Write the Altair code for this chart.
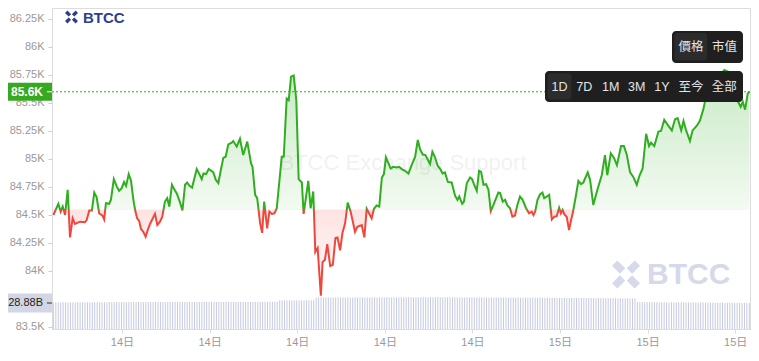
import altair as alt
import pandas as pd

# ---- price series (hours since 14日 00:00, price in USD) ----
hours = [6.65, 6.82, 6.90, 6.97, 7.05, 7.14, 7.22, 7.31, 7.39, 7.56, 7.73, 7.79, 7.88, 7.97,
         8.05, 8.13, 8.22, 8.33, 8.39, 8.45, 8.56, 8.62, 8.72, 8.82, 8.90, 8.99, 9.07, 9.14,
         9.23, 9.31, 9.39, 9.46, 9.52, 9.59, 9.65, 9.73, 9.81, 9.88, 9.96, 10.13, 10.21, 10.30,
         10.38, 10.47, 10.55, 10.62, 10.71, 10.79, 10.88, 10.99, 11.07, 11.16, 11.23, 11.31,
         11.40, 11.56, 11.65, 11.73, 11.79, 11.88, 11.97, 12.13, 12.21, 12.30, 12.38, 12.47,
         12.55, 12.64, 12.76, 12.81, 12.93, 13.04, 13.15, 13.29, 13.42, 13.47, 13.56, 13.63,
         13.73, 13.80, 13.87, 13.97, 14.05, 14.13, 14.22, 14.30, 14.47, 14.54, 14.64, 14.71,
         14.79, 14.88, 14.97, 15.05, 15.16, 15.22, 15.38, 15.46, 15.55, 15.62, 15.70, 15.81,
         15.87, 15.95, 16.03, 16.13, 16.22, 16.31, 16.38, 16.47, 16.55, 16.64, 16.73, 16.83,
         16.98, 17.06, 17.21, 17.30, 17.38, 17.46, 17.55, 17.63, 17.72, 17.81, 17.90, 17.97,
         18.04, 18.12, 18.20, 18.29, 18.41, 18.49, 18.58, 18.69, 18.81, 18.92, 19.04, 19.13,
         19.21, 19.30, 19.39, 19.47, 19.55, 19.63, 19.72, 19.81, 19.89, 19.98, 20.06, 20.16,
         20.29, 20.41, 20.49, 20.55, 20.65, 20.71, 20.81, 20.92, 20.99, 21.06, 21.15, 21.23,
         21.30, 21.38, 21.47, 21.55, 21.63, 21.72, 21.89, 21.95, 22.04, 22.12, 22.20, 22.29,
         22.37, 22.46, 22.54, 22.63, 22.72, 22.83, 22.94, 23.03, 23.09, 23.15, 23.23, 23.32,
         23.40, 23.46, 23.55, 23.63, 23.72, 23.81, 23.89, 23.97, 24.03, 24.09, 24.15, 24.23,
         24.31, 24.38, 24.44, 24.54, 24.63, 24.72, 24.80, 24.95, 25.03, 25.14, 25.28, 25.43,
         25.54, 25.62, 25.74, 25.85, 25.95, 26.09, 26.19, 26.29, 26.40, 26.51, 26.63, 26.72,
         26.83, 26.95, 27.05, 27.12, 27.23, 27.37, 27.46, 27.57, 27.69, 27.83, 27.94, 28.03,
         28.15, 28.23, 28.32, 28.45, 28.54, 28.68, 28.79, 28.91, 29.00, 29.21, 29.41, 29.63,
         29.76, 29.92, 29.99, 30.11, 30.19, 30.26, 30.34, 30.43, 30.49]

prices = [84500, 84600, 84530, 84575, 84500, 84725, 84300, 84470, 84420, 84440, 84435, 84455, 84540, 84540,
          84700, 84660, 84515, 84495, 84460, 84605, 84600, 84635, 84820, 84755, 84715, 84740, 84795, 84760,
          84865, 84805, 84635, 84530, 84470, 84445, 84375, 84350, 84305, 84365, 84420, 84510, 84410, 84440,
          84485, 84620, 84650, 84575, 84770, 84730, 84690, 84610, 84540, 84770, 84790, 84760,
          84745, 84910, 84865, 84820, 84870, 84865, 84910, 84880, 84815, 84785, 84895, 85010,
          85020, 85130, 85145, 85160, 85110, 85180, 85035, 85155, 84960, 84930, 84680, 84650,
          84425, 84340, 84620, 84380, 84530, 84510, 84515, 84560, 85020, 85020, 85540, 85525,
          85735, 85745, 85525, 84820, 84790, 84510, 84805, 84560, 84710, 84170, 84205, 83780,
          84080, 84100, 84240, 84045, 84055, 84295, 84300, 84185, 84340, 84425, 84610, 84530,
          84350, 84395, 84410, 84300, 84555, 84515, 84470, 84555, 84585, 84575, 84835, 84865,
          85015, 84965, 84915, 84930, 84925, 84930, 84910, 84895, 84870, 84945, 85020, 85170,
          85085, 85040, 85035, 84995, 84955, 85065, 85015, 84940, 84915, 84870, 84880, 84795,
          84790, 84670, 84635, 84665, 84600, 84620, 84785, 84835, 84820, 84770, 84715, 84895,
          84885, 84770, 84775, 84725, 84535, 84590, 84700, 84695, 84620, 84635, 84585, 84560,
          84485, 84495, 84590, 84665, 84635, 84565, 84515, 84530, 84500, 84530, 84635, 84685,
          84700, 84650, 84665, 84680, 84460, 84485, 84490, 84565, 84515, 84545, 84505, 84485,
          84365, 84455, 84520, 84665, 84805, 84775, 84790, 84880, 84815, 84590, 84725, 84855,
          85035, 84855, 85050, 85010, 84945, 85115, 85115, 85035, 84880, 84840, 84770, 84850,
          84915, 85225, 85115, 85145, 85115, 85245, 85250, 85350, 85305, 85255, 85355, 85365,
          85255, 85340, 85255, 85160, 85255, 85295, 85340, 85445, 85555, 85660, 85725, 85795,
          85780, 85660, 85540, 85505, 85465, 85510, 85440, 85585, 85600]

# ---- volume bars (billions), 5-minute bars, one row per hour ----
vol_rows = [
    [29.6, 29.5, 29.7, 29.6, 29.8, 29.6, 29.5, 29.7, 29.6, 29.6, 29.8, 29.7],
    [29.7, 29.6, 29.8, 29.7, 29.6, 29.9, 29.7, 29.6, 29.8, 29.7, 29.7, 29.9],
    [29.8, 29.7, 29.9, 29.8, 29.8, 30.0, 29.8, 29.7, 29.9, 29.8, 29.8, 30.0],
    [29.9, 29.8, 30.0, 29.9, 29.8, 30.1, 29.9, 29.8, 30.0, 29.9, 29.9, 30.1],
    [30.0, 29.9, 30.1, 30.0, 29.9, 30.2, 30.0, 29.9, 30.1, 30.0, 30.0, 30.2],
    [30.1, 30.0, 30.2, 30.1, 30.0, 30.3, 30.1, 30.0, 30.2, 30.1, 30.1, 30.3],
    [30.1, 30.0, 30.2, 30.1, 30.0, 30.2, 30.1, 30.0, 30.2, 30.1, 30.1, 30.2],
    [30.2, 30.1, 30.3, 30.2, 30.1, 30.3, 30.2, 30.1, 30.3, 31.6, 31.7, 31.8],
    [31.7, 31.8, 31.9, 31.7, 31.8, 31.9, 31.8, 31.7, 31.9, 31.8, 31.9, 32.0],
    [34.8, 35.0, 35.1, 35.0, 35.2, 35.1, 35.0, 35.2, 35.1, 35.0, 35.2, 35.1],
    [35.0, 35.1, 34.9, 35.0, 35.2, 35.1, 35.0, 35.2, 35.1, 35.0, 35.2, 35.1],
    [35.1, 35.0, 35.2, 35.1, 35.0, 35.3, 35.1, 35.0, 35.2, 35.1, 35.1, 35.3],
    [35.2, 35.1, 35.3, 35.2, 35.1, 35.3, 35.2, 35.1, 35.3, 35.2, 35.2, 35.3],
    [35.2, 35.1, 35.3, 35.2, 35.1, 35.2, 35.2, 35.1, 35.3, 35.2, 35.1, 35.2],
    [35.1, 35.0, 35.2, 35.1, 35.0, 35.2, 35.1, 35.0, 35.1, 35.0, 35.0, 35.1],
    [35.0, 34.9, 35.1, 35.0, 34.9, 35.0, 34.9, 34.8, 35.0, 34.9, 34.8, 34.9],
    [34.8, 34.7, 34.9, 34.8, 34.7, 34.8, 34.7, 34.6, 34.8, 34.7, 34.6, 34.7],
    [34.6, 34.5, 34.7, 34.6, 34.5, 34.6, 34.5, 34.4, 34.6, 34.5, 34.4, 34.5],
    [34.4, 34.3, 34.5, 34.4, 34.3, 34.4, 34.3, 34.2, 34.4, 34.3, 34.2, 34.3],
    [34.2, 34.1, 34.3, 34.2, 34.1, 34.2, 34.0, 33.9, 34.0, 33.8, 33.7, 33.8],
    [30.0, 29.8, 29.9, 29.7, 29.8, 29.9, 29.7, 29.6, 29.8, 29.7, 29.6, 29.7],
    [29.6, 29.5, 29.7, 29.6, 29.5, 29.6, 29.5, 29.4, 29.6, 29.5, 29.4, 29.5],
    [29.4, 29.3, 29.5, 29.4, 29.3, 29.4, 29.3, 29.2, 29.3, 29.2, 29.1, 29.2],
    [29.1, 29.0, 29.2, 29.1, 29.0, 29.1, 29.0, 28.9, 29.0, 28.9, 28.88],
]

BASE = 84550          # opening price (green/red split)
LAST = 85600          # current price
LAST_LABEL = "85.6K"
VOL_LAST = 28.88
VOL_LABEL = "28.88B"
x_ticks = [9, 12, 15, 18, 21, 24, 27, 30]
y_ticks = [83500, 83750, 84000, 84250, 84500, 84750, 85000, 85250, 85500, 85750, 86000, 86250]
btn_top = ["價格", "市值"]
btn_range = ["1D", "7D", "1M", "3M", "1Y", "至今", "全部"]
watermark = "BTCC Exchange Support"
brand = "BTCC"

# ---- build tables ----
vol = [v for row in vol_rows for v in row]
vol_hours = [6.65 + i / 12 for i in range(len(vol))]
price_df = pd.DataFrame({"h": hours, "p": prices})
vol_df = pd.DataFrame({"h": vol_hours, "v": vol})
one = pd.DataFrame({"a": [0]})

W, H = 698, 321
GREEN = "#2fae1f"
RED = "#f0463c"
FONT = "Liberation Sans, Noto Sans CJK TC, sans-serif"

xs = alt.Scale(domain=[6.603, 30.507], nice=False, zero=False)
ps = alt.Scale(domain=[83482, 86348], nice=False, zero=False)
vs = alt.Scale(domain=[0, 356.6], nice=False, zero=True)

x_axis = alt.Axis(values=x_ticks, labelExpr="datum.value < 24 ? '14日' : '15日'",
                  title=None, grid=False, labelColor="#999", labelFontSize=11,
                  domainColor="#dcdcdc", tickColor="#dcdcdc", tickSize=4, labelPadding=3,
                  labelFont=FONT)
y_axis = alt.Axis(values=y_ticks, labelExpr="format(datum.value / 1000, '.4~r') + 'K'",
                  title=None, grid=False, labelColor="#999", labelFontSize=11,
                  domainColor="#dcdcdc", tickColor="#cfcfcf", tickSize=4, labelPadding=4,
                  labelFont=FONT)

pmax, pmin = max(prices), min(prices)
off = (pmax - BASE) / (pmax - pmin)

area_grad = alt.LinearGradient(
    gradient="linear", x1=0, x2=0, y1=0, y2=1,
    stops=[alt.GradientStop(color="rgba(47,174,31,0.26)", offset=0),
           alt.GradientStop(color="rgba(47,174,31,0.06)", offset=off),
           alt.GradientStop(color="rgba(240,70,60,0.15)", offset=off),
           alt.GradientStop(color="rgba(240,70,60,0.02)", offset=1)])
line_grad = alt.LinearGradient(
    gradient="linear", x1=0, x2=0, y1=0, y2=1,
    stops=[alt.GradientStop(color=GREEN, offset=0),
           alt.GradientStop(color=GREEN, offset=off),
           alt.GradientStop(color=RED, offset=off),
           alt.GradientStop(color=RED, offset=1)])

ICON = ("M-1,-0.62 L-0.62,-1 L-0.06,-0.44 L-0.44,-0.06 Z "
        "M1,-0.62 L0.62,-1 L0.06,-0.44 L0.44,-0.06 Z "
        "M-1,0.62 L-0.62,1 L-0.06,0.44 L-0.44,0.06 Z "
        "M1,0.62 L0.62,1 L0.06,0.44 L0.44,0.06 Z")

# ---- volume layer ----
vol_rules = alt.Chart(vol_df).mark_rule(color="#c6cae0", strokeWidth=1).encode(
    x=alt.X("h:Q", scale=xs, axis=x_axis),
    y=alt.Y("v:Q", scale=vs, axis=None),
    y2=alt.Y2Datum(0),
)
vol_box = alt.Chart(one).mark_rect(color="#d3d6e4").encode(
    x=alt.value(-44), x2=alt.value(0),
    y=alt.YDatum(VOL_LAST + 10.5, scale=vs, axis=None), y2=alt.Y2Datum(VOL_LAST - 10.5),
)
vol_text = alt.Chart(one).mark_text(text=VOL_LABEL, align="right", baseline="middle",
                                    fontSize=11, color="#222", font=FONT).encode(
    x=alt.value(-9), y=alt.YDatum(VOL_LAST, scale=vs, axis=None))
vol_tick = alt.Chart(one).mark_rule(color="#333", strokeWidth=1).encode(
    x=alt.value(-5), x2=alt.value(0), y=alt.YDatum(VOL_LAST, scale=vs, axis=None))
vol_layer = alt.layer(vol_rules, vol_box, vol_text, vol_tick)

# ---- price layer ----
area = alt.Chart(price_df).mark_area(color=area_grad, line=False).encode(
    x=alt.X("h:Q", scale=xs, axis=x_axis),
    y=alt.Y("p:Q", scale=ps, axis=y_axis),
    y2=alt.Y2Datum(BASE),
)
wm = alt.Chart(one).mark_text(text=watermark, fontSize=22, color="#000", opacity=0.05,
                              font=FONT, align="center", baseline="middle").encode(
    x=alt.value(351), y=alt.value(155))
line = alt.Chart(price_df).mark_line(color=line_grad, strokeWidth=2).encode(
    x=alt.X("h:Q", scale=xs, axis=x_axis),
    y=alt.Y("p:Q", scale=ps, axis=y_axis),
)
last_rule = alt.Chart(one).mark_rule(color=GREEN, strokeDash=[2, 2], strokeWidth=1).encode(
    y=alt.YDatum(LAST, scale=ps, axis=y_axis))
last_box = alt.Chart(one).mark_rect(color="#37a920").encode(
    x=alt.value(-44), x2=alt.value(0),
    y=alt.YDatum(LAST + 80, scale=ps, axis=y_axis), y2=alt.Y2Datum(LAST - 80))
last_text = alt.Chart(one).mark_text(text=LAST_LABEL, align="right", baseline="middle",
                                     fontSize=12, fontWeight="bold", color="white",
                                     font=FONT).encode(
    x=alt.value(-9), y=alt.YDatum(LAST, scale=ps, axis=y_axis))
last_tick = alt.Chart(one).mark_rule(color="white", strokeWidth=1).encode(
    x=alt.value(-5), x2=alt.value(0), y=alt.YDatum(LAST, scale=ps, axis=y_axis))
price_layer = alt.layer(area, wm, line, last_rule, last_box, last_text, last_tick)

# ---- decorations: logos and buttons ----
decos = []
decos.append(alt.Chart(one).mark_point(shape=ICON, filled=True, size=169, color="#2f3d8e",
                                       opacity=1).encode(x=alt.value(19.5), y=alt.value(9)))
decos.append(alt.Chart(one).mark_text(text=brand, fontSize=15, fontWeight="bold", color="#2f3d8e",
                                      align="left", baseline="middle", font=FONT).encode(
    x=alt.value(31), y=alt.value(9.5)))
decos.append(alt.Chart(one).mark_point(shape=ICON, filled=True, size=784, color="#d5d9ea",
                                       opacity=1).encode(x=alt.value(574), y=alt.value(266.5)))
decos.append(alt.Chart(one).mark_text(text=brand, fontSize=30, fontWeight="bold", color="#d5d9ea",
                                      align="left", baseline="middle", font=FONT).encode(
    x=alt.value(595), y=alt.value(267)))

decos.append(alt.Chart(one).mark_rect(color="#1f1f1f", cornerRadius=4).encode(
    x=alt.value(620), x2=alt.value(691), y=alt.value(23), y2=alt.value(55)))
decos.append(alt.Chart(one).mark_rect(color="#2c2c2c", cornerRadius=3).encode(
    x=alt.value(622.5), x2=alt.value(655), y=alt.value(25), y2=alt.value(52.5)))
for lab, cx in zip(btn_top, [639, 672.5]):
    decos.append(alt.Chart(one).mark_text(text=lab, fontSize=12.5, color="#e6e6e6",
                                          align="center", baseline="middle", font=FONT).encode(
        x=alt.value(cx), y=alt.value(39)))

decos.append(alt.Chart(one).mark_rect(color="#1f1f1f", cornerRadius=4).encode(
    x=alt.value(493), x2=alt.value(691), y=alt.value(63), y2=alt.value(94)))
decos.append(alt.Chart(one).mark_rect(color="#2c2c2c", cornerRadius=3).encode(
    x=alt.value(495.5), x2=alt.value(519.5), y=alt.value(65.5), y2=alt.value(91.5)))
for lab, cx in zip(btn_range, [507.5, 532.3, 558.7, 584.7, 610, 639, 672.3]):
    decos.append(alt.Chart(one).mark_text(text=lab, fontSize=12.5, color="#e6e6e6",
                                          align="center", baseline="middle", font=FONT).encode(
        x=alt.value(cx), y=alt.value(78.7)))

chart = alt.layer(vol_layer, price_layer, *decos).resolve_scale(y="independent").properties(
    width=W, height=H,
    autosize=alt.AutoSizeParams(type="none"),
    padding={"left": 44, "top": 0, "right": 1, "bottom": 22},
).configure_view(strokeWidth=0).configure(font=FONT)

chart.save("out.html", embed_options={"renderer": "svg", "actions": False})
